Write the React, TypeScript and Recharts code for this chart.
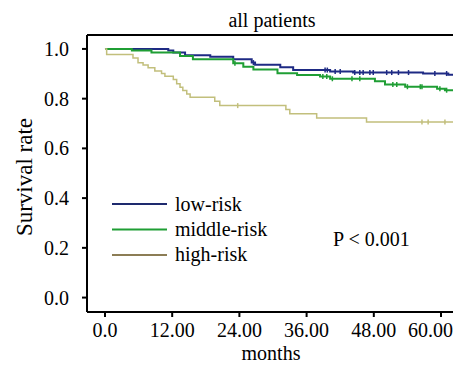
import { Label, Line, LineChart, ReferenceLine, XAxis, YAxis } from "recharts"

// Kaplan-Meier steps: [month, survival]
const lowRiskSteps = [
  [0, 1.0], [11.3, 0.994], [12.2, 0.986], [14.3, 0.975], [18.8, 0.969],
  [22.9, 0.958], [26.2, 0.945], [26.8, 0.936], [31.3, 0.926], [33.6, 0.915],
  [40.2, 0.909], [44.3, 0.905], [56.8, 0.901], [61.3, 0.896],
]
const middleRiskSteps = [
  [0, 1.0], [4.8, 0.994], [8.3, 0.986], [13.4, 0.972], [15.7, 0.958],
  [22.9, 0.942], [24.7, 0.928], [26.5, 0.917], [30.8, 0.902], [34.3, 0.895],
  [38.4, 0.889], [40.2, 0.88], [48.2, 0.87], [50.0, 0.857], [53.6, 0.848],
  [59.3, 0.84], [60.7, 0.834],
]
const highRiskSteps = [
  [0, 1.0], [0.3, 0.978], [5.0, 0.964], [5.9, 0.944], [6.8, 0.935],
  [7.7, 0.924], [8.9, 0.911], [10.1, 0.901], [10.7, 0.89], [12.2, 0.877],
  [12.8, 0.86], [13.4, 0.846], [13.9, 0.833], [14.6, 0.819], [15.2, 0.806],
  [19.6, 0.79], [20.5, 0.772], [32.3, 0.756], [33.0, 0.739], [37.8, 0.722],
  [46.7, 0.706],
]

// censored observations (months)
const lowRiskCensored = [26.5, 39.3, 39.7, 41.1, 42.0, 44.6, 45.5, 46.1, 47.3, 47.9, 50.3, 51.2, 52.4, 54.2, 58.9, 61.0]
const middleRiskCensored = [23.2, 38.9, 39.6, 40.6, 44.1, 45.5, 51.4, 52.1, 54.0, 56.3, 56.6, 59.8, 61.0]
const highRiskCensored = [23.7, 56.6, 57.7, 60.7]

const groups = ["low-risk", "middle-risk", "high-risk"]
const lineColors = ["#1e2a84", "#1f9e34", "#c2bf7c"]
const legendColors = ["#1e2a6e", "#1f9e34", "#8c7d55"]

const xTicks = [0, 12, 24, 36, 48, 60]
const yTicks = [0, 0.2, 0.4, 0.6, 0.8, 1.0]
const followUpEnd = 62.5

function buildCurve(steps: number[][], censored: number[]) {
  const survAt = (t: number) => {
    let s = steps[0][1]
    for (const [st, sv] of steps) if (st <= t) s = sv
    return s
  }
  const pts = [
    ...steps.map(([t, s]) => ({ t, s, c: 0 })),
    ...censored.map((t) => ({ t, s: survAt(t), c: 1 })),
  ]
  pts.push({ t: followUpEnd, s: survAt(followUpEnd), c: 0 })
  return pts.sort((a, b) => a.t - b.t)
}

const curves = [
  buildCurve(lowRiskSteps, lowRiskCensored),
  buildCurve(middleRiskSteps, middleRiskCensored),
  buildCurve(highRiskSteps, highRiskCensored),
]

const font = "Liberation Serif, Times New Roman, serif"
const Y_MAX = 1.056

const censorMark = (color: string) => (props: any) => {
  const { cx, cy, payload, index } = props
  if (!payload || !payload.c) return <g key={`n-${index}`} />
  return <line key={`c-${index}`} x1={cx} x2={cx} y1={cy - 2.5} y2={cy + 2.5} stroke={color} strokeWidth={1.5} />
}

export default function App() {
  return (
    <div style={{ position: "absolute", left: 0, top: 0, width: 453, height: 366, overflow: "hidden", background: "#fff" }}>
      <LineChart width={453} height={366} margin={{ top: 35, right: 0, bottom: 0, left: 0 }} style={{ fontFamily: font }}>
        <XAxis
          dataKey="t"
          type="number"
          domain={[-3.21, 62.14]}
          ticks={xTicks}
          allowDataOverflow
          height={54}
          tickSize={5}
          tickMargin={6}
          axisLine={{ stroke: "#000", strokeWidth: 2 }}
          tickLine={{ stroke: "#000", strokeWidth: 2 }}
          tick={{ fill: "#000", fontSize: 20, fontFamily: font }}
          tickFormatter={(v: number) => (v === 0 ? "0.0" : v.toFixed(2))}
        >
          <Label
            content={() => (
              <text x={271} y={360} textAnchor="middle" fontSize={20} fontFamily={font} fill="#000">
                months
              </text>
            )}
          />
        </XAxis>
        <YAxis
          type="number"
          domain={[-0.058, Y_MAX]}
          ticks={yTicks}
          allowDataOverflow
          width={87}
          tickSize={5}
          tickMargin={13}
          axisLine={{ stroke: "#000", strokeWidth: 2 }}
          tickLine={{ stroke: "#000", strokeWidth: 2 }}
          tick={{ fill: "#000", fontSize: 20, fontFamily: font }}
          tickFormatter={(v: number) => v.toFixed(1)}
        >
          <Label
            content={() => (
              <text x={24} y={177} transform="rotate(-90 24 177)" textAnchor="middle" dominantBaseline="central" fontSize={23} fontFamily={font} fill="#000">
                Survival rate
              </text>
            )}
          />
        </YAxis>
        <ReferenceLine y={Y_MAX} stroke="#000" strokeWidth={2} />
        {curves.map((data, i) => (
          <Line
            key={groups[i]}
            data={data}
            dataKey="s"
            name={groups[i]}
            type="stepAfter"
            stroke={lineColors[i]}
            strokeWidth={i === 2 ? 1.5 : 2}
            dot={censorMark(lineColors[i])}
            activeDot={false}
            isAnimationActive={false}
          />
        ))}
      </LineChart>
      <svg width={453} height={366} style={{ position: "absolute", left: 0, top: 0, pointerEvents: "none" }} fontFamily={font} fontSize={20}>
        <text x={272} y={27} textAnchor="middle" fill="#000">all patients</text>
        {groups.map((g, i) => (
          <g key={g}>
            <line x1={112} x2={167} y1={204 + i * 25.5} y2={204 + i * 25.5} stroke={legendColors[i]} strokeWidth={2} />
            <text x={175} y={211 + i * 25} fill="#000">{g}</text>
          </g>
        ))}
        <text x={333} y={246} fill="#000">P &lt; 0.001</text>
      </svg>
    </div>
  )
}
